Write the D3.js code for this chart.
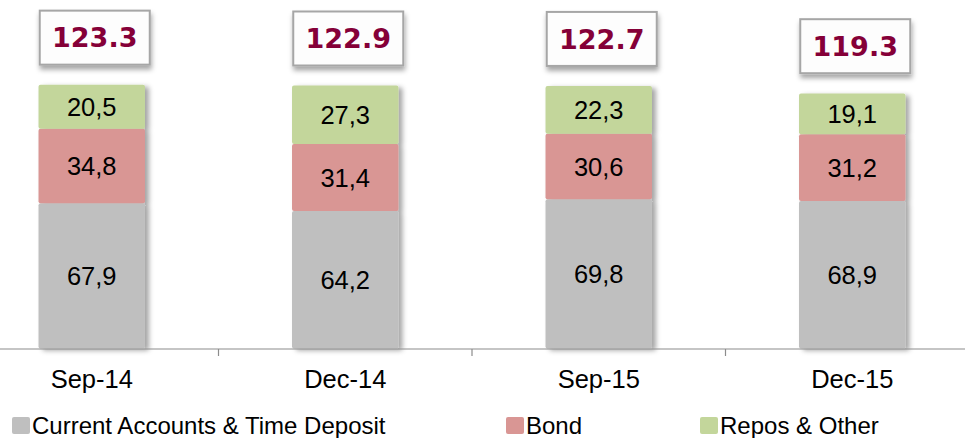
<!DOCTYPE html>
<html>
<head>
<meta charset="utf-8">
<script src="https://cdn.jsdelivr.net/npm/d3@7"></script>
<style>
  html, body { margin: 0; padding: 0; background: #fff; }
  svg { display: block; }
</style>
</head>
<body>
<svg id="chart" width="965" height="438"></svg>
<script>
const categories = ["Sep-14", "Dec-14", "Sep-15", "Dec-15"];
const currentAccounts = [67.9, 64.2, 69.8, 68.9];
const bond = [34.8, 31.4, 30.6, 31.2];
const repos = [20.5, 27.3, 22.3, 19.1];
const totals = [123.3, 122.9, 122.7, 119.3];
const seriesNames = ["Current Accounts & Time Deposit", "Bond", "Repos & Other"];
const seriesColors = ["#bfbfbf", "#d99694", "#c3d69b"];

const svg = d3.select("#chart");
const W = 965, H = 438;

const defs = svg.append("defs");
const f1 = defs.append("filter").attr("id", "barShadow").attr("x", "-20%").attr("y", "-20%").attr("width", "150%").attr("height", "150%");
f1.append("feDropShadow").attr("dx", 4).attr("dy", 2).attr("stdDeviation", 2.5).attr("flood-color", "#000").attr("flood-opacity", 0.35);
const f2 = defs.append("filter").attr("id", "boxShadow").attr("x", "-20%").attr("y", "-30%").attr("width", "150%").attr("height", "180%");
f2.append("feDropShadow").attr("dx", 1).attr("dy", 4).attr("stdDeviation", 2.5).attr("flood-color", "#000").attr("flood-opacity", 0.35);

const x = d3.scaleBand().domain(categories).range([-35, 979]).paddingInner(0.58).paddingOuter(0.29);
const y = d3.scaleLinear().domain([0, 130]).range([348.5, 348.5 - 130 * 2.14]);

const table = categories.map((c, i) => ({ cat: c, s0: currentAccounts[i], s1: bond[i], s2: repos[i], total: totals[i] }));
const stack = d3.stack().keys(["s0", "s1", "s2"]);
const layers = stack(table);

const fmt = v => d3.format(".1f")(v).replace(".", ",");

// bars
const barG = svg.append("g").attr("filter", "url(#barShadow)");
layers.forEach((layer, li) => {
  barG.selectAll(null).data(layer).enter().append("rect")
    .attr("x", d => x(d.data.cat))
    .attr("y", d => y(d[1]))
    .attr("width", x.bandwidth())
    .attr("height", d => y(d[0]) - y(d[1]))
    .attr("rx", 2)
    .attr("fill", seriesColors[li]);
});

// segment labels
layers.forEach((layer, li) => {
  svg.selectAll(null).data(layer).enter().append("text")
    .attr("x", d => x(d.data.cat) + x.bandwidth() / 2)
    .attr("y", d => (y(d[0]) + y(d[1])) / 2)
    .attr("dy", "0.36em")
    .attr("text-anchor", "middle")
    .attr("font-family", "Liberation Sans, Arial, sans-serif")
    .attr("font-size", 25.5)
    .attr("fill", "#000")
    .text(d => fmt(d[1] - d[0]));
});

// axis
const axisY = 349;
svg.append("line").attr("x1", 0).attr("x2", W).attr("y1", axisY).attr("y2", axisY)
  .attr("stroke", "#8c8c8c").attr("stroke-width", 1.2);
const step = x.step();
categories.slice(0, -1).forEach(c => {
  const tx = x(c) + x.bandwidth() / 2 + step / 2;
  svg.append("line").attr("x1", tx).attr("x2", tx).attr("y1", axisY).attr("y2", axisY + 7)
    .attr("stroke", "#8c8c8c").attr("stroke-width", 1.2);
});
svg.selectAll(null).data(categories).enter().append("text")
  .attr("x", d => x(d) + x.bandwidth() / 2)
  .attr("y", 388)
  .attr("text-anchor", "middle")
  .attr("font-family", "Liberation Sans, Arial, sans-serif")
  .attr("font-size", 25.5)
  .attr("fill", "#000")
  .text(d => d);

// total boxes
const boxW = 110, boxH = 54;
const boxG = svg.append("g");
table.forEach(d => {
  const cx = x(d.cat) + x.bandwidth() / 2 + 3;
  const top = y(d.total) - 74;
  boxG.append("rect")
    .attr("x", cx - boxW / 2).attr("y", top)
    .attr("width", boxW).attr("height", boxH)
    .attr("fill", "#fdfdfd").attr("stroke", "#a6a6a6").attr("stroke-width", 2)
    .attr("filter", "url(#boxShadow)");
  boxG.append("text")
    .attr("x", cx).attr("y", top + boxH / 2)
    .attr("dy", "0.36em")
    .attr("text-anchor", "middle")
    .attr("font-family", "DejaVu Sans, Verdana, sans-serif")
    .attr("font-weight", "bold")
    .attr("font-size", 27)
    .attr("fill", "#850038")
    .text(d3.format(".1f")(d.total));
});

// legend
const legendX = [12, 506, 700];
const legG = svg.append("g");
seriesNames.forEach((name, i) => {
  legG.append("rect").attr("x", legendX[i]).attr("y", 417).attr("width", 18).attr("height", 17)
    .attr("rx", 2).attr("fill", seriesColors[i]);
  legG.append("text").attr("x", legendX[i] + 20).attr("y", 434)
    .attr("font-family", "Liberation Sans, Arial, sans-serif")
    .attr("font-size", 24)
    .attr("fill", "#000")
    .text(name);
});
</script>
</body>
</html>
